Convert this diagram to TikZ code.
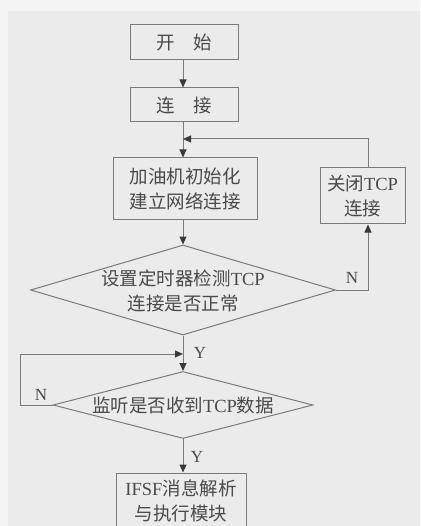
\documentclass[tikz,border=0pt]{standalone}
\usepackage{fontspec}
\setmainfont{Liberation Serif}
\newfontfamily\cjk{Noto Sans CJK SC}
\usetikzlibrary{arrows.meta,shapes.geometric}
\definecolor{bgpaper}{HTML}{EBEBEB}
\definecolor{bgedge}{HTML}{F4F4F4}
\definecolor{linec}{HTML}{7A7A7A}
\definecolor{textc}{HTML}{4A4A4A}
\definecolor{tipc}{HTML}{3A3A3A}
\newcommand\lt[1]{{\rmfamily #1}}
\begin{document}
\begin{tikzpicture}[x=1pt,y=-1pt,
  every node/.style={text=textc,font=\cjk\fontsize{18.5}{25}\selectfont},
  box/.style={draw=linec,line width=1pt,align=center,inner sep=0pt},
  dia/.style={draw=linec,line width=1pt,diamond,inner sep=0pt},
  lbl/.style={font=\rmfamily\fontsize{17}{19}\selectfont,inner sep=0pt},
  conn/.style={draw=linec,line width=1pt},
  arr/.style={conn,-{Triangle[width=7pt,length=8pt,color=tipc]}}]
\useasboundingbox (0,0) rectangle (420,526);
\clip (0,0) rectangle (420,526);
\fill[bgedge] (0,0) rectangle (420,526);
\fill[bgpaper] (8,11) rectangle (420,526);

\node[box,minimum width=108,minimum height=35] (start) at (184,42.5) {开\quad 始};
\node[box,minimum width=108,minimum height=34] (con) at (184,105) {连\quad 接};
\node[box,minimum width=144,minimum height=62] (init) at (185,189) {加油机初始化\\建立网络连接};
\node[box,minimum width=85,minimum height=56] (close) at (362.5,196) {关闭\lt{TCP}\\连接};
\node[dia,minimum width=305,minimum height=90] (d1) at (183,290) {};
\node[align=center] (d1t) at (183,291) {设置定时器检测\lt{TCP}\\连接是否正常};
\node[dia,minimum width=260,minimum height=67] (d2) at (183,405) {};
\node (d2t) at (183,405) {监听是否收到\lt{TCP}数据};
\node[box,minimum width=130,minimum height=56] (final) at (181,501) {\lt{IFSF}消息解析\\与执行模块};

\coordinate (m1) at (183,139);
\coordinate (m2) at (183,354);
\coordinate (r1) at (368,290);
\coordinate (l2) at (20,405);

\draw[arr] (start.south -| 183,0) -- (con.north -| 183,0);
\draw[arr] (con.south -| 183,0) -- (init.north -| 183,0);
\draw[arr] (init.south -| 183,0) -- (d1.north);
\draw[arr] (d1.east) -- (r1) -- (close.south -| r1);
\draw[arr] (close.north -| r1) |- (m1);
\draw[arr] (d1.south) -- (d2.north);
\draw[arr] (d2.west) -- (l2) |- (m2);
\draw[arr] (d2.south) -- (final.north -| d2.south);

\node[lbl] (n1) at (352,278) {N};
\node[lbl] (y1) at (200,353) {Y};
\node[lbl] (n2) at (41,395) {N};
\node[lbl] (y2) at (197,457) {Y};
\end{tikzpicture}
\end{document}
